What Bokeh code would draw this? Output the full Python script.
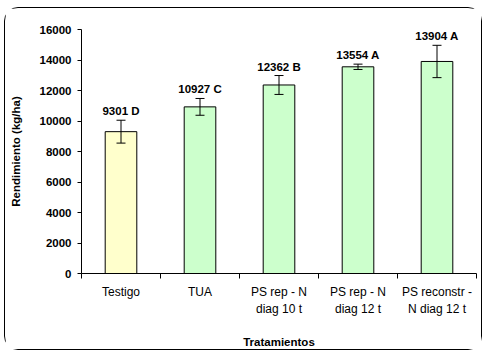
from bokeh.plotting import figure
from bokeh.models import ColumnDataSource, Whisker, TeeHead, FixedTicker, Range1d
from bokeh.core.properties import value
from bokeh.embed import file_html
from bokeh.resources import INLINE

categories = ["Testigo", "TUA", "PS rep - N\ndiag 10 t", "PS rep - N\ndiag 12 t", "PS reconstr -\nN diag 12 t"]
rendimiento = [9301, 10927, 12362, 13554, 13904]
error = [750, 550, 620, 175, 1060]
letras = ["D", "C", "B", "A", "A"]
colores = ["#FFFFCC", "#CCFFCC", "#CCFFCC", "#CCFFCC", "#CCFFCC"]
y_ticks = [0, 2000, 4000, 6000, 8000, 10000, 12000, 14000, 16000]

xs = [i + 0.5 for i in range(len(categories))]
src = ColumnDataSource(dict(
    x=xs, top=rendimiento, color=colores,
    upper=[v + e for v, e in zip(rendimiento, error)],
    lower=[v - e for v, e in zip(rendimiento, error)],
    label=[f"{v} {l}" for v, l in zip(rendimiento, letras)],
))

FONT = "Liberation Sans"

p = figure(width=478, height=343, output_backend="svg", toolbar_location=None,
           x_range=Range1d(0, len(categories)), y_range=Range1d(0, 16000),
           min_border_left=76, min_border_right=7, min_border_top=21, min_border_bottom=78)
p.styles = {"border": "1px solid black", "border-radius": "14px", "box-sizing": "border-box",
            "margin": "7px 0 0 4px"}
p.outline_line_color = None
p.grid.visible = False
p.background_fill_color = "white"
p.border_fill_color = "white"

p.vbar(x="x", top="top", width=0.4, source=src, fill_color="color", line_color="black", line_width=1)
w = Whisker(base="x", upper="upper", lower="lower", source=src, line_color="black", line_width=1,
            upper_head=TeeHead(size=9, line_color="black"), lower_head=TeeHead(size=9, line_color="black"),
            level="overlay")
p.add_layout(w)
p.text(x="x", y="upper", text="label", source=src, text_align="center", text_baseline="bottom",
       y_offset=-3, text_font=value(FONT), text_font_style="bold", text_font_size="11.5px", text_color="black")

# x axis
p.xaxis.ticker = FixedTicker(ticks=xs, minor_ticks=list(range(len(categories) + 1)))
p.xaxis.major_label_overrides = {x: c for x, c in zip(xs, categories)}
p.xaxis.major_tick_out = 0
p.xaxis.major_tick_in = 0
p.xaxis.minor_tick_out = 5
p.xaxis.minor_tick_in = 0
p.xaxis.major_label_standoff = 6
p.xaxis.major_label_text_font = FONT
p.xaxis.major_label_text_font_size = "12px"
p.xaxis.major_label_text_line_height = 1.25
p.xaxis.axis_label = "Tratamientos"

# y axis
p.yaxis.ticker = FixedTicker(ticks=y_ticks, minor_ticks=[])
p.yaxis.major_tick_out = 4
p.yaxis.major_tick_in = 0
p.yaxis.major_label_standoff = 6
p.yaxis.major_label_text_font = FONT
p.yaxis.major_label_text_font_style = "bold"
p.yaxis.major_label_text_font_size = "11.5px"
p.yaxis.axis_label = "Rendimiento (kg/ha)"
p.yaxis.axis_label_standoff = 15

for ax in (p.xaxis, p.yaxis):
    ax.axis_line_color = "black"
    ax.major_tick_line_color = "black"
    ax.minor_tick_line_color = "black"
    ax.major_label_text_color = "black"
    ax.axis_label_text_font = FONT
    ax.axis_label_text_font_style = "bold"
    ax.axis_label_text_font_size = "11.5px"
    ax.axis_label_text_color = "black"
p.xaxis.axis_label_standoff = 17

open("out.html", "w").write(file_html(p, INLINE))
